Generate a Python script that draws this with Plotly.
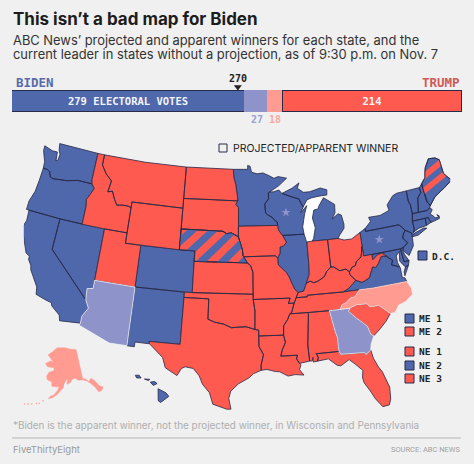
import plotly.graph_objects as go

# electoral votes: Biden projected, Biden leading, Trump leading, Trump projected
vote_values = [279, 27, 18, 214]
vote_labels = ["279 ELECTORAL VOTES", "", "", "214"]
WIN_LINE = 270

BLUE = "#4f67ab"
RED = "#ff5a4f"
LIGHT_BLUE = "#8e94c9"
LIGHT_RED = "#ff9b90"
DARK = "#272a48"
BG = "#f0f0f0"

# state outlines as (lon, lat)
WA = [(-124.73, 48.38), (-123.5, 48.13), (-122.75, 48.15), (-122.6, 47.3), (-122.35, 47.4), (-122.3, 48.0), (-122.6, 48.4), (-122.76, 49), (-117.03, 49), (-117.04, 46.42), (-116.92, 45.99), (-118.98, 46.0), (-119.3, 45.93), (-120.5, 45.7), (-121.2, 45.65), (-122.3, 45.55), (-122.75, 45.65), (-123.0, 46.1), (-123.4, 46.25), (-124.0, 46.27), (-124.1, 46.9), (-124.7, 47.9)]
OR = [(-124.55, 42), (-120, 42), (-117.03, 42), (-117.03, 43.8), (-117.2, 44.4), (-116.85, 44.95), (-116.47, 45.6), (-116.92, 45.99), (-118.98, 46.0), (-119.3, 45.93), (-120.5, 45.7), (-121.2, 45.65), (-122.3, 45.55), (-122.75, 45.65), (-123.0, 46.1), (-123.4, 46.25), (-124.0, 46.27), (-124.05, 45), (-124.15, 43.9), (-124.55, 42.85)]
CA = [(-124.2, 42), (-120, 42), (-120, 39), (-114.63, 35.0), (-114.15, 34.27), (-114.72, 33.4), (-114.72, 32.72), (-117.12, 32.53), (-117.3, 33.05), (-118.4, 33.75), (-118.5, 34.03), (-119.2, 34.15), (-120.5, 34.45), (-120.65, 35.15), (-121.9, 36.6), (-122.0, 36.95), (-122.5, 37.5), (-122.5, 37.8), (-123.0, 38.0), (-123.8, 39.3), (-124.35, 40.3), (-124.1, 41)]
NV = [(-120, 42), (-114.04, 42), (-114.04, 36.2), (-114.75, 36.1), (-114.63, 35), (-120, 39)]
ID = [(-117.03, 49), (-116.05, 49), (-116.05, 48), (-115.3, 47.25), (-114.35, 46.65), (-114.55, 45.55), (-113.95, 45.7), (-113.45, 44.95), (-113.0, 44.45), (-112.3, 44.55), (-111.5, 44.55), (-111.05, 44.47), (-111.05, 42), (-114.04, 42), (-117.03, 42), (-117.03, 43.8), (-117.2, 44.4), (-116.85, 44.95), (-116.47, 45.6), (-116.92, 45.99), (-117.04, 46.42)]
MT = [(-116.05, 49), (-110, 49), (-104.05, 49), (-104.05, 45.94), (-104.05, 45), (-111.05, 45), (-111.05, 44.47), (-111.5, 44.55), (-112.3, 44.55), (-113.0, 44.45), (-113.45, 44.95), (-113.95, 45.7), (-114.55, 45.55), (-114.35, 46.65), (-115.3, 47.25), (-116.05, 48)]
WY = [(-111.05, 45), (-104.05, 45), (-104.05, 41), (-111.05, 41)]
UT = [(-114.04, 42), (-111.05, 42), (-111.05, 41), (-109.05, 41), (-109.05, 37), (-114.04, 37)]
AZ = [(-114.04, 37), (-109.05, 37), (-109.05, 31.33), (-111.07, 31.33), (-114.81, 32.5), (-114.72, 32.72), (-114.72, 33.4), (-114.15, 34.27), (-114.63, 35), (-114.75, 36.1), (-114.04, 36.2)]
CO = [(-109.05, 41), (-102.05, 41), (-102.05, 37), (-109.05, 37)]
NM = [(-109.05, 37), (-103.0, 37), (-103.05, 32), (-106.62, 32), (-106.53, 31.78), (-108.2, 31.78), (-108.2, 31.33), (-109.05, 31.33)]
ND = [(-104.05, 49), (-97.23, 49), (-97.14, 48.2), (-96.85, 47.5), (-96.6, 46.3), (-96.56, 45.94), (-104.05, 45.94)]
SD = [(-104.05, 45.94), (-96.56, 45.94), (-96.85, 45.6), (-96.45, 45.3), (-96.45, 43.5), (-96.45, 42.49), (-97.4, 42.87), (-98.0, 42.77), (-98.5, 43), (-104.05, 43)]
NE = [(-104.05, 43), (-98.5, 43), (-98, 42.77), (-97.4, 42.87), (-96.45, 42.49), (-95.92, 41.25), (-95.85, 40.7), (-95.31, 40), (-102.05, 40), (-102.05, 41), (-104.05, 41)]
KS = [(-102.05, 40), (-95.31, 40), (-94.9, 39.75), (-94.61, 39.11), (-94.62, 37), (-102.05, 37)]
OK = [(-103, 37), (-94.62, 37), (-94.62, 36.5), (-94.43, 35.4), (-94.48, 33.64), (-95.5, 33.9), (-96.6, 33.85), (-97.2, 33.8), (-98.1, 34.13), (-99.2, 34.3), (-100, 34.56), (-100, 36.5), (-103, 36.5)]
TX = [(-106.62, 32), (-103.05, 32), (-103, 36.5), (-100, 36.5), (-100, 34.56), (-99.2, 34.3), (-98.1, 34.13), (-97.2, 33.8), (-96.6, 33.85), (-95.5, 33.9), (-94.48, 33.64), (-94.04, 33.55), (-94.04, 33.0), (-94.04, 32), (-93.55, 31.2), (-93.85, 30.2), (-93.85, 29.7), (-94.7, 29.4), (-95.2, 29.0), (-96.4, 28.4), (-97.2, 27.7), (-97.4, 27), (-97.15, 25.96), (-97.6, 25.95), (-99.1, 26.4), (-99.5, 27.5), (-100.3, 28.3), (-100.7, 29.1), (-101.4, 29.77), (-102.3, 29.88), (-102.7, 29.7), (-103.15, 28.98), (-104.5, 29.65), (-104.9, 30.6), (-106.53, 31.78)]
MN = [(-97.23, 49), (-95.15, 49), (-95.15, 49.38), (-94.8, 49.3), (-94.6, 48.72), (-93.8, 48.55), (-92.95, 48.62), (-92, 48.3), (-91.4, 48.05), (-90.8, 48.2), (-89.6, 48.0), (-90.8, 47.3), (-92.1, 46.75), (-92.29, 46.66), (-92.29, 46.1), (-92.85, 45.6), (-92.76, 44.75), (-92.53, 44.57), (-91.9, 44.3), (-91.64, 44.05), (-91.25, 43.8), (-91.22, 43.5), (-96.45, 43.5), (-96.45, 45.3), (-96.85, 45.6), (-96.56, 45.94), (-96.6, 46.3), (-96.85, 47.5), (-97.14, 48.2)]
IA = [(-96.45, 43.5), (-91.22, 43.5), (-91.15, 43.05), (-90.64, 42.51), (-90.18, 41.84), (-90.58, 41.51), (-91.05, 41.42), (-91.1, 40.82), (-91.42, 40.38), (-91.73, 40.61), (-95.77, 40.58), (-95.85, 40.7), (-95.92, 41.25), (-96.45, 42.49)]
MO = [(-95.77, 40.58), (-91.73, 40.61), (-91.42, 40.38), (-91.41, 39.93), (-91.36, 39.7), (-90.72, 39.2), (-90.45, 38.97), (-90.18, 38.63), (-89.82, 37.9), (-89.52, 37.3), (-89.13, 36.98), (-89.42, 36.5), (-89.7, 36), (-90.38, 36), (-90.15, 36.5), (-94.62, 36.5), (-94.62, 37), (-94.61, 39.11), (-94.9, 39.75), (-95.31, 40)]
AR = [(-94.62, 36.5), (-90.15, 36.5), (-90.38, 36), (-89.7, 36), (-90.07, 35.13), (-90.3, 35), (-90.58, 34.5), (-91.1, 33.9), (-91.17, 33), (-94.04, 33), (-94.04, 33.55), (-94.48, 33.64), (-94.43, 35.4)]
LA = [(-94.04, 33), (-91.17, 33), (-91.0, 32.3), (-91.42, 31.55), (-91.6, 31), (-89.73, 31), (-89.85, 30.65), (-89.55, 30.2), (-89.4, 30.05), (-89.6, 29.6), (-89.15, 29.05), (-90.1, 29.15), (-90.9, 29.05), (-91.8, 29.5), (-92.3, 29.55), (-93.2, 29.77), (-93.85, 29.7), (-93.85, 30.2), (-93.55, 31.2), (-94.04, 32)]
MS = [(-90.3, 35), (-88.2, 35), (-88.1, 34.9), (-88.47, 31.9), (-88.4, 30.35), (-89.55, 30.2), (-89.85, 30.65), (-89.73, 31), (-91.6, 31), (-91.42, 31.55), (-91, 32.3), (-91.17, 33), (-91.1, 33.9), (-90.58, 34.5)]
AL = [(-88.2, 35), (-85.6, 34.98), (-85.18, 32.87), (-85, 32.3), (-85.05, 31.55), (-85, 31), (-87.6, 31), (-87.4, 30.65), (-87.52, 30.28), (-88.0, 30.23), (-88.0, 30.7), (-88.1, 30.35), (-88.4, 30.35), (-88.47, 31.9), (-88.1, 34.9)]
TN = [(-90.3, 35), (-88.2, 35), (-85.6, 34.98), (-84.32, 34.99), (-84.05, 35.4), (-83.5, 35.57), (-82.9, 35.95), (-82.4, 36.0), (-81.7, 36.59), (-83.68, 36.6), (-86.5, 36.65), (-88.05, 36.65), (-88.07, 36.5), (-89.42, 36.5), (-89.7, 36), (-90.07, 35.13)]
KY = [(-89.42, 36.5), (-88.07, 36.5), (-88.05, 36.65), (-86.5, 36.65), (-83.68, 36.6), (-82.9, 36.9), (-81.97, 37.54), (-82.6, 38.17), (-82.59, 38.42), (-82.99, 38.73), (-83.75, 38.65), (-84.51, 39.1), (-84.82, 39.1), (-85.38, 38.74), (-85.75, 38.27), (-86.5, 37.93), (-87.11, 37.78), (-87.57, 37.97), (-88.03, 37.8), (-88.45, 37.07), (-89.13, 36.98)]
VA = [(-83.68, 36.6), (-81.7, 36.59), (-80, 36.55), (-75.87, 36.55), (-76.0, 36.93), (-76.3, 37.0), (-76.3, 37.5), (-76.3, 38.0), (-77.0, 38.3), (-77.3, 38.4), (-77.04, 38.8), (-77.5, 39.13), (-77.72, 39.32), (-78.35, 39.4), (-78.87, 38.77), (-79.3, 38.42), (-79.65, 38.55), (-80.3, 37.55), (-81.22, 37.25), (-81.97, 37.54), (-82.9, 36.9)]
VA_SHORE = [(-75.65, 37.95), (-75.25, 38.03), (-75.95, 37.12), (-75.95, 37.5)]
WV = [(-80.52, 40.64), (-80.52, 39.72), (-79.48, 39.72), (-79.48, 39.2), (-78.77, 39.6), (-78.2, 39.68), (-77.72, 39.32), (-78.35, 39.4), (-78.87, 38.77), (-79.3, 38.42), (-79.65, 38.55), (-80.3, 37.55), (-81.22, 37.25), (-81.97, 37.54), (-82.6, 38.17), (-82.59, 38.42), (-82.14, 38.84), (-81.75, 38.93), (-81.56, 39.27), (-80.87, 39.68), (-80.72, 40.06), (-80.58, 40.62)]
OH = [(-84.82, 41.73), (-83.45, 41.73), (-82.7, 41.5), (-81.7, 41.5), (-80.52, 41.98), (-80.52, 40.64), (-80.58, 40.62), (-80.72, 40.06), (-80.87, 39.68), (-81.56, 39.27), (-81.75, 38.93), (-82.14, 38.84), (-82.59, 38.42), (-82.99, 38.73), (-83.75, 38.65), (-84.51, 39.1), (-84.82, 39.1)]
IN = [(-87.52, 41.72), (-86.82, 41.76), (-84.82, 41.73), (-84.82, 39.1), (-85.38, 38.74), (-85.75, 38.27), (-86.5, 37.93), (-87.11, 37.78), (-87.57, 37.97), (-88.03, 37.8), (-87.6, 38.6), (-87.53, 39.35)]
IL = [(-87.52, 41.72), (-87.53, 39.35), (-87.6, 38.6), (-88.03, 37.8), (-88.45, 37.07), (-89.13, 36.98), (-89.52, 37.3), (-89.82, 37.9), (-90.18, 38.63), (-90.45, 38.97), (-90.72, 39.2), (-91.36, 39.7), (-91.41, 39.93), (-91.42, 40.38), (-91.1, 40.82), (-91.05, 41.42), (-90.58, 41.51), (-90.18, 41.84), (-90.64, 42.51), (-87.8, 42.49), (-87.6, 41.85)]
WI = [(-90.64, 42.51), (-87.8, 42.49), (-87.9, 43.2), (-87.7, 43.8), (-87.5, 44.4), (-87.1, 45.2), (-88.0, 44.55), (-87.6, 45.1), (-87.8, 45.35), (-88.1, 45.9), (-89, 46.14), (-90.4, 46.55), (-90.8, 46.9), (-91.5, 46.75), (-92.1, 46.75), (-92.29, 46.66), (-92.29, 46.1), (-92.85, 45.6), (-92.76, 44.75), (-92.53, 44.57), (-91.9, 44.3), (-91.64, 44.05), (-91.25, 43.8), (-91.22, 43.5), (-91.15, 43.05)]
MI_LOWER = [(-86.82, 41.76), (-84.82, 41.73), (-83.45, 41.73), (-83.15, 42.05), (-82.5, 42.6), (-82.42, 43.0), (-82.6, 43.9), (-83.0, 44.07), (-83.9, 43.65), (-83.4, 44.2), (-83.3, 45.0), (-84.7, 45.78), (-85.5, 45.0), (-85.6, 44.77), (-86.2, 44.7), (-86.5, 43.95), (-86.25, 43.0), (-86.6, 42.0)]
MI_UPPER = [(-90.4, 46.55), (-89, 46.14), (-88.1, 45.9), (-87.8, 45.35), (-87.6, 45.1), (-87, 45.75), (-86.3, 45.9), (-85, 46.0), (-84.2, 46.0), (-84.1, 46.5), (-85, 46.75), (-86.5, 46.5), (-87.4, 46.5), (-88.2, 46.95), (-87.9, 47.45), (-88.9, 47.0)]
PA = [(-80.52, 41.98), (-79.76, 42.27), (-79.76, 42.0), (-75.35, 42.0), (-75.05, 41.75), (-74.7, 41.36), (-75.1, 40.95), (-75.2, 40.65), (-74.72, 40.15), (-75.4, 39.8), (-75.79, 39.72), (-79.48, 39.72), (-80.52, 39.72)]
NY = [(-79.76, 42.27), (-78.9, 42.85), (-79.05, 43.27), (-77.5, 43.25), (-76.2, 43.55), (-76.3, 44.1), (-75.3, 44.85), (-74.7, 45), (-73.35, 45.01), (-73.4, 44), (-73.25, 43.6), (-73.27, 42.75), (-73.5, 42.05), (-73.5, 41.3), (-73.66, 41), (-73.9, 40.8), (-74.0, 41.0), (-74.7, 41.36), (-75.05, 41.75), (-75.35, 42), (-79.76, 42)]
LONG_ISLAND = [(-74.03, 40.6), (-73.75, 40.85), (-72.3, 41.15), (-71.9, 41.07), (-73.2, 40.62)]
NJ = [(-74.7, 41.36), (-74.0, 41.0), (-74.0, 40.45), (-74.1, 39.75), (-74.9, 38.93), (-75.5, 39.5), (-75.4, 39.8), (-74.72, 40.15), (-75.2, 40.65), (-75.1, 40.95)]
DE = [(-75.79, 39.72), (-75.4, 39.8), (-75.55, 39.5), (-75.4, 39.05), (-75.05, 38.45), (-75.69, 38.46)]
MD = [(-79.48, 39.72), (-75.79, 39.72), (-75.69, 38.46), (-75.05, 38.45), (-75.25, 38.03), (-75.65, 37.95), (-75.9, 38.2), (-76.2, 38.6), (-76.0, 39.5), (-76.5, 39.15), (-76.5, 38.5), (-76.35, 38.05), (-77.0, 38.3), (-77.3, 38.4), (-77.04, 38.8), (-77.5, 39.13), (-77.72, 39.32), (-78.2, 39.68), (-78.77, 39.6), (-79.48, 39.2)]
CT = [(-73.5, 42.05), (-71.8, 42.02), (-71.85, 41.32), (-72.9, 41.25), (-73.66, 41), (-73.5, 41.3)]
RI = [(-71.8, 42.02), (-71.38, 42.02), (-71.2, 41.5), (-71.85, 41.32)]
MA = [(-73.5, 42.05), (-73.27, 42.75), (-72.46, 42.73), (-71.3, 42.7), (-70.85, 42.88), (-70.6, 42.65), (-71.0, 42.3), (-70.6, 41.95), (-70.55, 41.8), (-70.05, 41.8), (-70.2, 42.07), (-69.95, 41.9), (-70.0, 41.65), (-70.65, 41.55), (-71.2, 41.5), (-71.38, 42.02), (-71.8, 42.02)]
VT = [(-73.35, 45.01), (-71.5, 45.01), (-71.5, 44.5), (-72.05, 44.1), (-72.46, 42.73), (-73.27, 42.75), (-73.25, 43.6), (-73.4, 44)]
NH = [(-71.5, 45.01), (-71.08, 45.3), (-71.0, 43.5), (-70.7, 43.07), (-70.85, 42.88), (-71.3, 42.7), (-72.46, 42.73), (-72.05, 44.1), (-71.5, 44.5)]
ME = [(-71.08, 45.3), (-70.4, 45.8), (-70.25, 46.2), (-70.0, 46.7), (-69.23, 47.46), (-68.3, 47.36), (-67.79, 47.07), (-67.79, 45.7), (-67.45, 45.3), (-67, 44.85), (-68.2, 44.35), (-68.9, 44.1), (-69.8, 43.75), (-70.7, 43.07), (-71, 43.5)]
NC = [(-84.32, 34.99), (-83.1, 35), (-82.3, 35.2), (-81.05, 35.15), (-80.8, 34.82), (-79.7, 34.8), (-78.55, 33.86), (-77.95, 33.9), (-77.4, 34.5), (-76.5, 34.7), (-75.53, 35.25), (-75.5, 35.8), (-75.87, 36.55), (-80, 36.55), (-81.7, 36.59), (-82.4, 36.0), (-82.9, 35.95), (-83.5, 35.57), (-84.05, 35.4)]
SC = [(-83.1, 35), (-82.3, 35.2), (-81.05, 35.15), (-80.8, 34.82), (-79.7, 34.8), (-78.55, 33.86), (-79.2, 33.2), (-80.0, 32.6), (-80.85, 32.03), (-81.15, 32.2), (-81.4, 33.0), (-81.9, 33.45), (-82.6, 34.0), (-83.35, 34.7)]
GA = [(-85.6, 34.98), (-84.32, 34.99), (-83.1, 35), (-83.35, 34.7), (-82.6, 34), (-81.9, 33.45), (-81.4, 33), (-81.15, 32.2), (-80.85, 32.03), (-81.3, 31.3), (-81.45, 30.72), (-82.05, 30.36), (-82.2, 30.57), (-84.86, 30.7), (-85, 31), (-85.05, 31.55), (-85, 32.3), (-85.18, 32.87)]
FL = [(-87.52, 30.28), (-87.4, 30.65), (-87.6, 31), (-85, 31), (-84.86, 30.7), (-82.2, 30.57), (-82.05, 30.36), (-81.45, 30.72), (-81.3, 29.9), (-80.9, 29.0), (-80.55, 28.45), (-80.05, 26.9), (-80.15, 25.75), (-80.4, 25.2), (-81.1, 25.13), (-81.75, 26), (-82.1, 26.7), (-82.7, 27.7), (-82.8, 28.2), (-82.65, 28.9), (-83.4, 29.6), (-84.0, 30.1), (-85.0, 29.6), (-85.4, 29.7), (-86.3, 30.4)]
AK = [(-141, 69.65), (-141, 60.3), (-139, 59.9), (-137.5, 58.9), (-135.5, 59.7), (-133.8, 58.7), (-131.8, 56.6), (-130.0, 55.9), (-131.5, 55.0), (-133.5, 55.0), (-134.5, 56.5), (-136.5, 58.1), (-138.5, 59.2), (-141, 59.9), (-144, 60), (-146, 60.8), (-148.2, 60.6), (-149.5, 59.7), (-151.9, 59.2), (-151.4, 60.7), (-150, 61.2), (-152.5, 60.5), (-154, 59.3), (-154.5, 58.2), (-156.5, 57.2), (-158.7, 56), (-161, 55.2), (-163.5, 54.7), (-162.5, 55.5), (-160.5, 55.9), (-158, 57.5), (-157.2, 58.8), (-158.9, 58.5), (-162, 58.7), (-162, 60), (-165.3, 60.6), (-166, 61.7), (-164.5, 63.0), (-161, 63.5), (-161, 64.5), (-166, 64.6), (-168, 65.6), (-164, 66.5), (-161.8, 66.1), (-163.7, 67.1), (-166.7, 68.4), (-163, 69.5), (-160, 70.5), (-156.6, 71.35), (-152, 70.85), (-147, 70.2)]
HI_BIG = [(-155.9, 20.25), (-155.1, 19.85), (-154.8, 19.5), (-155.65, 18.92), (-155.9, 19.1)]
HI_MAUI = [(-156.7, 20.9), (-156.25, 20.95), (-156, 20.75), (-156.4, 20.58)]
HI_MOLOKAI = [(-157.3, 21.2), (-156.75, 21.17), (-156.9, 21.05)]
HI_OAHU = [(-158.25, 21.55), (-157.95, 21.7), (-157.65, 21.3), (-158.1, 21.3)]
HI_KAUAI = [(-159.8, 22.05), (-159.55, 22.22), (-159.3, 22.1), (-159.4, 21.87)]
HI_NIIHAU = [(-160.25, 21.95), (-160.05, 21.98), (-160.1, 21.78)]
LAKE_MICHIGAN = [(-87.5, 41.63), (-86.82, 41.76), (-86.25, 43), (-86.5, 43.95), (-86.2, 44.7), (-85.6, 44.77), (-85, 45.7), (-85.5, 46.0), (-87, 45.75), (-87.6, 45.1), (-88, 44.55), (-87.1, 45.2), (-87.5, 44.4), (-87.7, 43.8), (-87.9, 43.2), (-87.8, 42.49), (-87.6, 41.85)]
ALEUTIAN_LON = [-166.5, -168.5, -170, -172.5, -174.5, -176.5, -178]
ALEUTIAN_LAT = [53.9, 53, 52.8, 52.4, 52.1, 51.9, 51.8]


def inset(ring, lon0, lat0, scale, dlon, dlat):
    # the reference places its insets a little off the stock albers usa spots
    return [(lon0 + (p[0] - lon0) * scale + dlon, lat0 + (p[1] - lat0) * scale + dlat) for p in ring]


hawaii = [inset(r, -157, 21, 1, 0.3, 1.0) for r in [HI_BIG, HI_MAUI, HI_MOLOKAI, HI_OAHU, HI_KAUAI, HI_NIIHAU]]
alaska = inset(AK, -154, 58.5, 0.88, 3.3, 2.5)
aleutians = inset(list(zip(ALEUTIAN_LON, ALEUTIAN_LAT)), -154, 58.5, 0.88, 3.3, 2.5)

biden_states = [WA, OR, CA, NV, CO, NM, MN, WI, MI_LOWER, MI_UPPER, IL, PA, NY, LONG_ISLAND, NJ, DE, MD, VA, VA_SHORE, CT, RI, MA, VT, NH, ME] + hawaii
trump_states = [ID, MT, WY, UT, ND, SD, NE, KS, OK, TX, IA, MO, AR, LA, MS, AL, TN, KY, WV, OH, IN, SC, FL]
biden_leading = [AZ, GA]
trump_leading = [NC]

# asterisk states
star_lon = [-90.0, -78.2]
star_lat = [44.7, 41.0]

# stripe bands as lat - k*lon
NE_K = 0.76
NE_BANDS = [(112.4, 113.4), (114.4, 115.4), (116.4, 117.4), (118.4, 119.4), (120.4, 121.4)]
ME_K = 0.3
ME_BANDS = [(65.6, 66.2), (66.8, 67.4)]


def clip_half(ring, k, limit, keep_above):
    out = []
    for i, p in enumerate(ring):
        q = ring[(i + 1) % len(ring)]
        fp = p[1] - k * p[0] - limit
        fq = q[1] - k * q[0] - limit
        p_in = fp >= 0 if keep_above else fp <= 0
        q_in = fq >= 0 if keep_above else fq <= 0
        if p_in:
            out.append(p)
        if p_in != q_in:
            t = fp / (fp - fq)
            out.append((p[0] + t * (q[0] - p[0]), p[1] + t * (q[1] - p[1])))
    return out


def stripes(ring, k, bands):
    parts = []
    for lo, hi in bands:
        part = clip_half(clip_half(ring, k, lo, True), k, hi, False)
        if len(part) > 2:
            parts.append(part)
    return parts


def clockwise(ring):
    area = sum(ring[i][0] * ring[(i + 1) % len(ring)][1] - ring[(i + 1) % len(ring)][0] * ring[i][1] for i in range(len(ring)))
    return ring[::-1] if area > 0 else ring


def geo_trace(rings, fill, line, width=0.8):
    lons, lats = [], []
    for ring in rings:
        r = clockwise(ring)
        lons += [p[0] for p in r] + [r[0][0], None]
        lats += [p[1] for p in r] + [r[0][1], None]
    return go.Scattergeo(lon=lons, lat=lats, mode="lines", fill="toself", fillcolor=fill,
                         line=dict(color=line, width=width), hoverinfo="skip", showlegend=False)


fig = go.Figure()

# stacked vote bar
bar_fill = [BLUE, LIGHT_BLUE, LIGHT_RED, RED]
bar_line = [DARK, LIGHT_BLUE, LIGHT_RED, DARK]
for value, label_text, fill, edge in zip(vote_values, vote_labels, bar_fill, bar_line):
    fig.add_trace(go.Bar(x=[value], y=[0], orientation="h", marker=dict(color=fill, line=dict(color=edge, width=1)),
                         text=[label_text], textposition="inside", insidetextanchor="middle", textangle=0,
                         textfont=dict(family="DejaVu Sans Mono", size=10.5, color="#f4f4f8", weight="bold"),
                         hoverinfo="skip", showlegend=False))
fig.add_trace(go.Scatter(x=[WIN_LINE], y=[0.69], mode="markers",
                         marker=dict(symbol="triangle-down", size=7, color="#222222"),
                         hoverinfo="skip", showlegend=False))

# map
fig.add_trace(geo_trace([LAKE_MICHIGAN], "#ffffff", "#ffffff", 0))
fig.add_trace(geo_trace(biden_states, BLUE, DARK))
fig.add_trace(geo_trace(trump_states, RED, DARK))
fig.add_trace(geo_trace(stripes(NE, NE_K, NE_BANDS), BLUE, BLUE, 0))
fig.add_trace(geo_trace(stripes(ME, ME_K, ME_BANDS), RED, RED, 0))
fig.add_trace(geo_trace([NE, ME], "rgba(0,0,0,0)", DARK))
fig.add_trace(geo_trace(biden_leading, LIGHT_BLUE, "#f4f4f8"))
fig.add_trace(geo_trace(trump_leading, LIGHT_RED, "#ffe3df"))
fig.add_trace(geo_trace([alaska], LIGHT_RED, LIGHT_RED, 0.5))
fig.add_trace(go.Scattergeo(lon=[p[0] for p in aleutians], lat=[p[1] for p in aleutians], mode="markers",
                            marker=dict(size=1.5, color=LIGHT_RED), hoverinfo="skip", showlegend=False))
fig.add_trace(go.Scattergeo(lon=star_lon, lat=star_lat, mode="markers",
                            marker=dict(symbol="star", size=7, color=LIGHT_BLUE), hoverinfo="skip", showlegend=False))


def px(x):
    return x / 474


def py(y):
    return 1 - y / 464


def label(x, y, text, size, color, family="Inter", anchor="left", weight="normal"):
    fig.add_annotation(x=px(x), y=py(y), xref="paper", yref="paper", text=text, showarrow=False,
                       xanchor=anchor, yanchor="middle", align=anchor, borderpad=0,
                       font=dict(family=family, size=size, color=color, weight=weight))


def square(x0, y0, x1, y1, fill):
    fig.add_shape(type="rect", xref="paper", yref="paper", x0=px(x0), x1=px(x1), y0=py(y0), y1=py(y1),
                  fillcolor=fill, line=dict(color=DARK, width=1))


MONO = "DejaVu Sans Mono"
label(12, 19, "This isn’t a bad map for Biden", 17, "#1c1c1c", weight="bold")
label(12, 40, "ABC News’ projected and apparent winners for each state, and the", 12.9, "#333333")
label(12, 55, "current leader in states without a projection, as of 9:30 p.m. on Nov. 7", 12.9, "#333333")
label(15, 82, "BIDEN", 12.5, "#5a6aa8", MONO, weight="bold")
label(461, 82, "TRUMP", 12.5, "#cf5a5a", MONO, "right", weight="bold")
fig.add_annotation(x=WIN_LINE, y=py(78.5), xref="x", yref="paper", text=str(WIN_LINE), showarrow=False,
                   yanchor="middle", font=dict(family=MONO, size=10, color="#222222", weight="bold"))
fig.add_annotation(x=vote_values[0] + vote_values[1] / 2, y=py(120), xref="x", yref="paper", text=str(vote_values[1]),
                   showarrow=False, yanchor="middle", font=dict(family=MONO, size=10, color="#9a9fd0", weight="bold"))
fig.add_annotation(x=vote_values[0] + vote_values[1] + vote_values[2] / 2, y=py(120), xref="x", yref="paper", text=str(vote_values[2]),
                   showarrow=False, yanchor="middle", font=dict(family=MONO, size=10, color="#ffa89f", weight="bold"))

square(219, 144, 227, 152, "rgba(0,0,0,0)")
label(232, 148, "PROJECTED/APPARENT WINNER", 10.5, "#222222")

square(418, 251, 427, 260, BLUE)
label(431, 256, "D.C.", 9.5, "#222222", MONO, weight="bold")
legend_names = ["ME 1", "ME 2", "NE 1", "NE 2", "NE 3"]
legend_colors = [BLUE, RED, RED, BLUE, RED]
legend_tops = [314, 327, 347, 361, 374]
for name, color, top in zip(legend_names, legend_colors, legend_tops):
    square(405, top, 414, top + 9, color)
    label(418, top + 4.5, name, 9.5, "#222222", MONO, weight="bold")

label(12, 425, "*Biden is the apparent winner, not the projected winner, in Wisconsin and Pennsylvania", 9.9, "#aeaeae")
fig.add_shape(type="line", xref="paper", yref="paper", x0=px(12), x1=px(461), y0=py(438), y1=py(438),
              line=dict(color="#b5b5b5", width=1))
label(12, 449, "FiveThirtyEight", 9.5, "#999999")
label(461, 449, "SOURCE: ABC NEWS", 7.5, "#a0a0a0", "Roboto", "right")

fig.update_layout(
    width=474, height=464, margin=dict(l=0, r=0, t=0, b=0),
    paper_bgcolor=BG, plot_bgcolor=BG, barmode="stack", bargap=0,
    xaxis=dict(domain=[px(12), px(462)], range=[0, sum(vote_values)], visible=False, fixedrange=True),
    yaxis=dict(domain=[py(112.5), py(80.25)], range=[-0.5, 1.0], visible=False, fixedrange=True),
    geo=dict(scope="usa", domain=dict(x=[px(23), px(451)], y=[py(415), py(138)]), bgcolor="rgba(0,0,0,0)",
             lonaxis=dict(range=[-118.6, -73.4]), lataxis=dict(range=[25, 50]),
             showland=False, showlakes=False, showsubunits=False, showcountries=False,
             showcoastlines=False, showframe=False, showocean=False, showrivers=False),
)
fig.write_html("out.html", config={"displayModeBar": False}, post_script="document.body.style.margin='0';")
